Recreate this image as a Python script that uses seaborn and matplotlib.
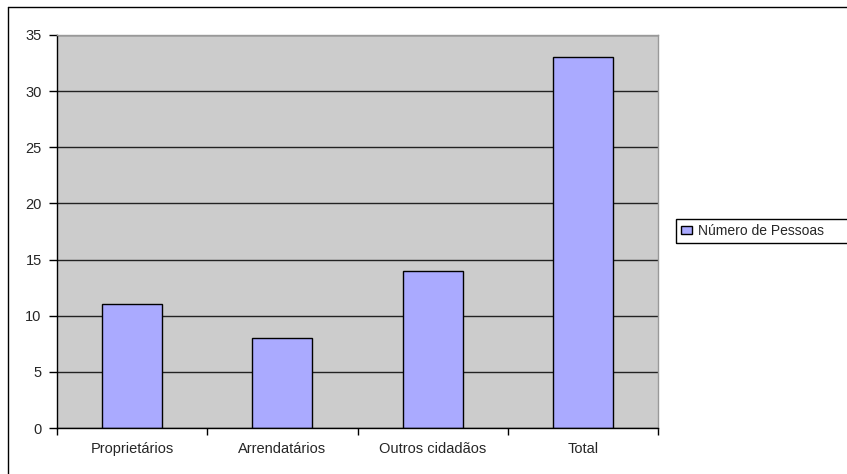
#!/usr/bin/env python3
"""Bar chart: Número de Pessoas por categoria (Excel-style look)."""

import pandas as pd
import numpy as np
import matplotlib
matplotlib.use('Agg')
import matplotlib.pyplot as plt
import matplotlib.patches as mpatches
import matplotlib.lines as mlines
import seaborn as sns

# Data
categories = ['Proprietários', 'Arrendatários', 'Outros cidadãos', 'Total']
values = [11, 8, 14, 33]
series_name = 'Número de Pessoas'
y_ticks = [0, 5, 10, 15, 20, 25, 30, 35]

BAR_COLOR = '#AAAAFF'
PLOT_BG = '#CCCCCC'

sns.set_style('white')
plt.rcParams['font.family'] = ['Liberation Sans', 'DejaVu Sans']

df = pd.DataFrame({'categoria': categories, 'pessoas': values})

W, H = 847, 474
fig = plt.figure(figsize=(W / 100, H / 100), dpi=100)
ax = fig.add_axes([57 / W, 1 - 428 / H, 601 / W, 393 / H])
ax.set_facecolor(PLOT_BG)

sns.barplot(data=df, x='categoria', y='pessoas', color=BAR_COLOR,
            width=0.4, edgecolor='black', linewidth=1, saturation=1, ax=ax)

ax.set_xlim(-0.5, len(categories) - 0.5)
ax.set_ylim(0, 35)
ax.set_yticks(y_ticks)
ax.set_xlabel('')
ax.set_ylabel('')

# horizontal gridlines behind bars
ax.set_axisbelow(True)
ax.yaxis.grid(True, color='#222222', linewidth=1)
ax.xaxis.grid(False)

# ticks: y outward, x tick marks at category boundaries
ax.tick_params(axis='y', direction='out', length=6, width=1, color='black',
               labelsize=10.5, pad=5, left=True)
ax.tick_params(axis='x', which='major', length=0, labelsize=10.5, pad=10)
ax.set_xticks(np.arange(-0.5, len(categories)), minor=True)
ax.tick_params(axis='x', which='minor', direction='out', length=5, width=1,
               color='black', bottom=True)

for side in ['left', 'bottom']:
    ax.spines[side].set_color('black')
    ax.spines[side].set_linewidth(1)
for side in ['top', 'right']:
    ax.spines[side].set_color('#999999')
    ax.spines[side].set_linewidth(1)

# legend on the right; its box runs off the right edge like the reference
handle = mpatches.Patch(facecolor=BAR_COLOR, edgecolor='black', linewidth=1,
                        label=series_name)
leg = fig.legend(handles=[handle], loc='center left',
                 bbox_to_anchor=(676 / W, 1 - 231 / H),
                 frameon=False, fontsize=10,
                 handlelength=0.8, handleheight=0.5, handletextpad=0.4,
                 borderpad=0.35, borderaxespad=0)
fig.patches.append(mpatches.Rectangle((676 / W, 1 - 243 / H), 200 / W, 24 / H,
                                      transform=fig.transFigure, fill=False,
                                      edgecolor='black', linewidth=1))

# outer chart border: only top and left edges fall inside the image
fig.lines.append(mlines.Line2D([8 / W, 1.01], [1 - 7 / H, 1 - 7 / H],
                               transform=fig.transFigure, color='black', lw=1))
fig.lines.append(mlines.Line2D([8 / W, 8 / W], [-0.01, 1 - 7 / H],
                               transform=fig.transFigure, color='black', lw=1))

fig.savefig('out.png', dpi=100, facecolor='white')
